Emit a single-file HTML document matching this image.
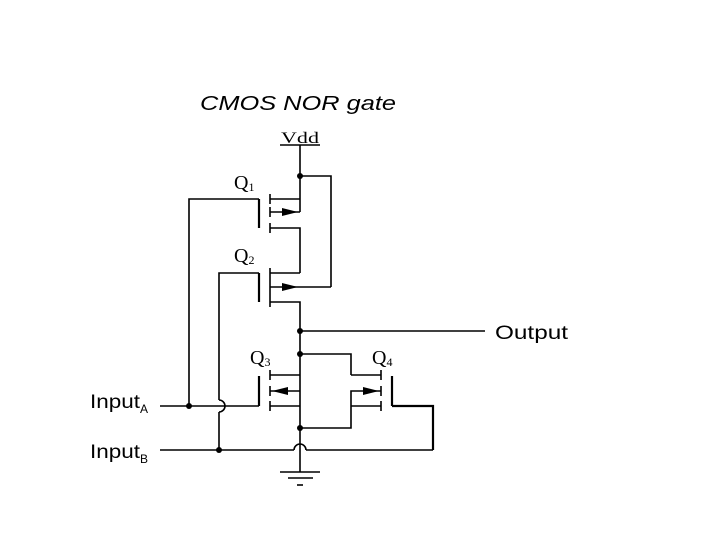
<!DOCTYPE html>
<html><head><style>body{margin:0;background:#fff}svg{display:block}</style></head><body>
<svg width="720" height="540" viewBox="0 0 720 540" xmlns="http://www.w3.org/2000/svg">
<g fill="none" stroke="#000" stroke-width="1.6">
<line x1="280" y1="145" x2="320" y2="145"/>
<line x1="300" y1="145" x2="300" y2="212"/>
<polyline points="300,176 331,176 331,287"/>
<line x1="270" y1="194" x2="270" y2="204"/><line x1="270" y1="207" x2="270" y2="217"/><line x1="270" y1="223" x2="270" y2="233"/>
<line x1="270" y1="199" x2="300" y2="199"/>
<line x1="270" y1="212" x2="300" y2="212"/>
<polyline points="270,228 300,228 300,273"/>
<polyline points="189,406 189,199 259,199"/>
<line x1="259" y1="199" x2="259" y2="228" stroke-width="2.2"/>
<line x1="270" y1="268" x2="270" y2="307"/>
<line x1="270" y1="273" x2="300" y2="273"/>
<line x1="270" y1="287" x2="331" y2="287"/>
<polyline points="270,302 300,302 300,428"/>
<polyline points="219,450 219,412"/><path d="M219,400 A6,6 0 0 1 219,412"/>
<polyline points="219,400 219,273 259,273"/>
<line x1="259" y1="273" x2="259" y2="302" stroke-width="2.2"/>
<line x1="300" y1="331" x2="485" y2="331"/>
<polyline points="300,354 351,354 351,375"/>
<line x1="270" y1="370" x2="270" y2="380"/><line x1="270" y1="386" x2="270" y2="396"/><line x1="270" y1="401" x2="270" y2="411"/>
<line x1="270" y1="375" x2="300" y2="375"/>
<line x1="270" y1="391" x2="300" y2="391"/>
<line x1="270" y1="406" x2="300" y2="406"/>
<line x1="259" y1="376" x2="259" y2="406" stroke-width="2.2"/>
<polyline points="160,406 259,406"/>
<line x1="351" y1="375" x2="381" y2="375"/>
<polyline points="381,391 351,391 351,428 300,428"/>
<line x1="351" y1="406" x2="381" y2="406"/>
<line x1="381" y1="370" x2="381" y2="380"/><line x1="381" y1="386" x2="381" y2="396"/><line x1="381" y1="401" x2="381" y2="411"/>
<line x1="392" y1="376" x2="392" y2="406" stroke-width="2.2"/>
<polyline points="392,406 433,406 433,450" stroke-width="2.2"/>
<line x1="160" y1="450" x2="294" y2="450"/>
<line x1="306" y1="450" x2="433" y2="450"/>
<path d="M294,450 A6,6 0 0 1 306,450"/>
<line x1="300" y1="428" x2="300" y2="472"/>
<line x1="280" y1="472" x2="320" y2="472"/>
<line x1="288" y1="478" x2="313" y2="478"/>
<line x1="297" y1="485" x2="303" y2="485"/>
</g>
<g fill="#000">
<circle cx="300" cy="176" r="3"/><circle cx="300" cy="331" r="3"/><circle cx="300" cy="354" r="3"/>
<circle cx="300" cy="428" r="3"/><circle cx="189" cy="406" r="3"/><circle cx="219" cy="450" r="3"/>
<polygon points="298,212 282,208 282,216"/>
<polygon points="298,287 282,283 282,291"/>
<polygon points="272,391 288,387 288,395"/>
<polygon points="379,391 363,387 363,395"/>
</g>
<g font-family="Liberation Sans, sans-serif" fill="#000">
<text x="200" y="110" font-size="20" font-style="italic" textLength="196" lengthAdjust="spacingAndGlyphs">CMOS NOR gate</text>
<text x="495" y="339" font-size="19" textLength="73" lengthAdjust="spacingAndGlyphs">Output</text>
<text x="90" y="408" font-size="19"><tspan textLength="50" lengthAdjust="spacingAndGlyphs">Input</tspan><tspan font-size="12" dy="5">A</tspan></text>
<text x="90" y="458" font-size="19"><tspan textLength="50" lengthAdjust="spacingAndGlyphs">Input</tspan><tspan font-size="12" dy="5">B</tspan></text>
</g>
<g font-family="Liberation Serif, serif" fill="#000">
<text x="281" y="143" font-size="16" textLength="38" lengthAdjust="spacingAndGlyphs">Vdd</text>
<text x="234" y="189" font-size="20">Q<tspan font-size="12" dy="2">1</tspan></text>
<text x="234" y="262" font-size="20">Q<tspan font-size="12" dy="2">2</tspan></text>
<text x="250" y="364" font-size="20">Q<tspan font-size="12" dy="2">3</tspan></text>
<text x="372" y="364" font-size="20">Q<tspan font-size="12" dy="2">4</tspan></text>
</g>
</svg>
</body></html>
